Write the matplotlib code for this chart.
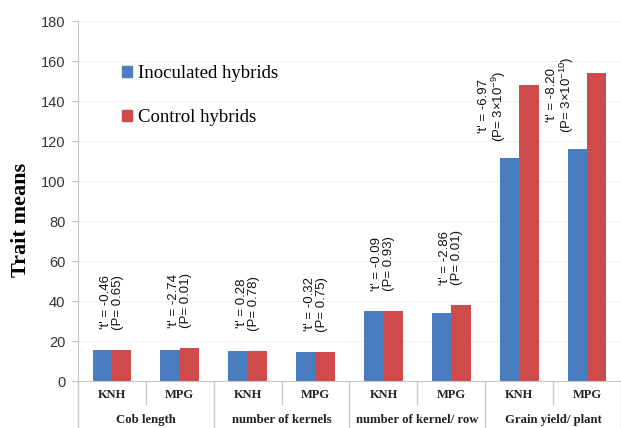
import numpy as np
import matplotlib.pyplot as plt
from matplotlib.patches import Patch

plt.rcParams['mathtext.fontset'] = 'custom'
plt.rcParams['mathtext.rm'] = 'Liberation Sans'
plt.rcParams['mathtext.it'] = 'Liberation Sans'

# trait means per hybrid
traits = ['Cob length', 'number of kernels', 'number of kernel/ row', 'Grain yield/ plant']
hybrids = ['KNH', 'MPG']
inoculated = [15.5, 15.6, 15.0, 14.5, 35.0, 34.0, 111.5, 116.0]
control = [15.7, 16.5, 15.0, 14.7, 35.0, 38.0, 148.0, 154.0]
t_values = ['-0.46', '-2.74', '0.28', '-0.32', '-0.09', '-2.86', '-6.97', '-8.20']
p_values = ['0.65', '0.01', '0.78', '0.75', '0.93', '0.01',
            r'3$\times$10$^{-9}$', r'3$\times$10$^{-10}$']

blue = '#4a7cc0'
red = '#cf4a4a'
grey = '#c8c8c8'

fig = plt.figure(figsize=(6.21, 4.28), dpi=100)
ax = fig.add_axes([0.1256, 0.1098, 0.8744, 0.8411])

x = np.arange(len(inoculated))
w = 0.285
ax.bar(x - w / 2, inoculated, w, color=blue, zorder=2)
ax.bar(x + w / 2, control, w, color=red, zorder=2)

ax.set_xlim(-0.5, len(x) - 0.5)
ax.set_ylim(0, 180)
ax.set_yticks(range(0, 181, 20))
ax.tick_params(axis='y', labelsize=10.5, length=5, color=grey, pad=4)
for lab in ax.get_yticklabels():
    lab.set_family('Liberation Sans')
    lab.set_color('#333333')
ax.set_xticks([])
for s in ['top', 'right']:
    ax.spines[s].set_visible(False)
ax.spines['left'].set_color(grey)
ax.spines['bottom'].set_color(grey)
ax.yaxis.grid(True, color='#f2f2f2', lw=0.8, zorder=0)

# t-test labels above the bars
for i in range(len(x)):
    txt = "'t' = " + t_values[i] + "\n(P= " + p_values[i] + ")"
    if control[i] - inoculated[i] > 20:
        xpos, ypos = x[i] - 0.38, inoculated[i] + 8
    else:
        xpos, ypos = x[i], max(inoculated[i], control[i]) + 10
    ax.text(xpos, ypos, txt, rotation=90, ha='center', va='bottom',
            multialignment='center', fontsize=9.5, family='Liberation Sans',
            linespacing=1.0, color='#111111')

# two-level category axis below the plot
trans = ax.get_xaxis_transform()
sub_depth = -0.065
grp_depth = -0.135
ax.plot([-0.5, -0.5], [0, grp_depth], transform=trans, color=grey, lw=1, clip_on=False)
for i in range(len(x)):
    ax.text(x[i], -0.038, hybrids[i % 2], transform=trans, ha='center', va='center',
            fontsize=9, fontweight='bold', family='Liberation Serif', color='#222222')
    edge = x[i] + 0.5
    depth = grp_depth if i % 2 == 1 else sub_depth
    ax.plot([edge, edge], [0, depth], transform=trans, color=grey, lw=1, clip_on=False)
for g, name in enumerate(traits):
    ax.text(2 * g + 0.5, -0.107, name, transform=trans, ha='center', va='center',
            fontsize=9.2, fontweight='bold', family='Liberation Serif', color='#222222')

fig.text(21 / 621, 1 - 220 / 428, 'Trait means', rotation=90, ha='center', va='center',
         fontsize=16, fontweight='bold', family='Liberation Serif')

handles = [Patch(color=blue), Patch(color=red)]
ax.legend(handles, ['Inoculated hybrids', 'Control hybrids'], loc='upper left',
          bbox_to_anchor=(0.05, 0.925), frameon=False, handlelength=0.55,
          handleheight=0.55, handletextpad=0.3, labelspacing=1.45,
          prop={'family': 'Liberation Serif', 'size': 13.5})

fig.savefig('out.png', dpi=100)
